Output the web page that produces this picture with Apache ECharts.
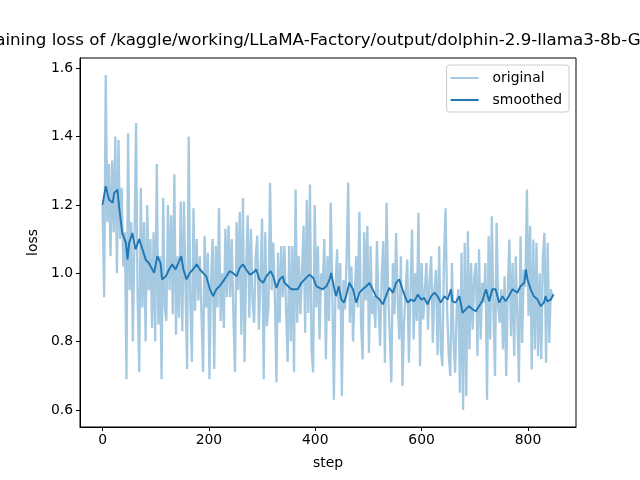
<!DOCTYPE html>
<html><head><meta charset="utf-8">
<script src="https://cdn.jsdelivr.net/npm/echarts@6/dist/echarts.min.js"></script>
<style>html,body{margin:0;padding:0;background:#fff}#c{width:640px;height:480px}</style>
</head><body><div id="c"></div>
<script>
const titleText = 'Training loss of /kaggle/working/LLaMA-Factory/output/dolphin-2.9-llama3-8b-GGUF';
const xTicks = [0, 200, 400, 600, 800];
const yTicks = [0.6, 0.8, 1.0, 1.2, 1.4, 1.6];
const seriesNames = ['original', 'smoothed'];

// original loss, one value every 3 steps starting at step 0
const originalStride = 3;
const originalValues = [
  1.20,0.93,1.58,1.15,1.32,1.05,1.33,1.12,1.40,1.00,1.39,1.10,1.25,1.02,1.12,0.69,1.41,0.95,1.15,0.80,
  1.10,1.44,0.92,0.71,1.25,0.90,1.15,0.80,1.20,0.95,1.10,0.84,1.12,0.80,1.32,0.85,1.05,0.69,1.22,0.90,
  0.86,1.20,0.95,1.17,0.88,1.29,0.82,1.05,0.87,1.21,0.83,
  1.21,0.95,0.72,1.40,0.92,0.74,1.19,0.89,1.10,0.92,1.05,0.88,0.71,1.11,0.90,1.06,0.69,0.98,1.10,0.72,
  1.08,0.90,1.19,0.86,1.00,0.84,1.13,0.93,1.14,0.93,1.10,0.88,0.71,1.15,0.95,1.18,0.82,1.22,0.74,1.02,
  1.17,0.87,1.13,0.92,0.855,1.05,1.11,0.835,1.00,1.16,0.69,1.12,0.845,0.90,
  1.265,0.95,1.09,0.93,0.68,1.06,0.855,1.08,0.93,1.08,0.90,0.74,1.08,0.80,1.08,0.71,1.245,0.855,1.05,0.88,
  1.00,1.14,0.826,1.215,0.884,1.26,0.777,0.71,1.20,0.90,1.08,0.806,1.00,0.953,1.10,0.748,1.05,0.86,1.206,0.953,
  0.63,0.95,1.07,0.894,1.03,0.64,0.98,0.894,1.05,1.265,0.855,1.02,0.80,
  0.797,1.05,0.90,1.18,0.855,0.748,1.12,0.92,1.138,0.767,1.08,0.88,0.933,0.84,1.094,0.90,0.787,1.00,1.094,0.738,
  1.206,0.953,0.82,0.68,1.03,0.88,1.118,0.92,0.806,1.05,0.67,0.855,0.95,1.04,0.738,0.95,1.128,0.806,1.00,0.86,
  1.177,0.728,1.03,0.865,0.95,1.03,0.835,0.98,1.05,0.797,0.95,1.01,0.76,
  1.079,0.777,0.728,1.04,1.19,0.894,0.757,0.699,1.03,0.806,0.709,0.90,0.953,0.65,1.06,0.60,1.089,0.64,1.123,0.777,
  1.03,0.835,0.99,1.03,0.757,1.07,0.806,0.972,0.914,1.03,0.63,1.108,0.806,1.167,0.90,0.699,1.148,0.90,0.855,0.953,
  0.777,0.991,0.699,0.95,1.099,0.816,1.03,0.757,1.05,0.875,0.68,1.108,0.796,
  1.01,0.96,1.245,0.875,1.138,0.718,1.099,0.777,1.089,0.757,1.00,0.748,1.05,1.118,0.738,1.089,0.796,0.953,0.93
];

const smoothedSteps = [
  0,6,12,19,22,28,31,37,44,47,50,56,62,69,75,81,87,97,103,109,112,119,125,131,137,144,148,152,158,164,
  170,177,183,189,195,202,208,214,220,227,233,239,245,252,258,264,270,277,283,289,295,302,308,316,321,327,333,339,342,349,
  355,361,367,374,380,389,396,402,408,414,421,427,430,436,439,444,449,454,458,464,471,477,483,489,496,502,508,514,521,527,
  533,539,546,552,558,561,564,571,574,580,586,593,599,605,611,618,624,630,636,643,649,655,658,664,671,677,683,689,696,702,
  708,714,721,727,733,739,746,752,758,764,771,780,786,793,796,799,805,811,818,824,830,833,836,843,848
];
const smoothedValues = [
  1.20,1.255,1.216,1.206,1.235,1.245,1.196,1.118,1.089,1.04,1.089,1.118,1.07,1.10,1.07,1.04,1.03,1.001,1.05,1.03,
  0.982,0.991,1.011,1.026,1.011,1.035,1.05,1.011,0.982,1.001,
  1.011,1.026,1.011,1.001,0.991,0.953,0.933,0.953,0.962,0.977,0.991,1.006,1.001,0.991,1.016,1.026,1.011,0.996,1.001,1.011,
  0.982,0.972,0.991,1.006,0.991,0.957,0.982,0.991,0.972,0.962,
  0.953,0.953,0.953,0.972,0.982,0.996,0.987,0.962,0.957,0.953,0.962,0.982,1.001,0.953,0.933,0.962,0.923,0.914,0.933,0.972,
  0.953,0.914,0.943,0.953,0.962,0.972,0.953,0.933,0.923,0.909,
  0.933,0.957,0.943,0.972,0.982,0.987,0.953,0.923,0.914,0.923,0.918,0.938,0.923,0.928,0.909,0.933,0.943,0.933,0.914,0.933,
  0.923,0.953,0.918,0.914,0.933,0.884,0.894,0.904,0.894,0.889,
  0.904,0.918,0.953,0.918,0.953,0.953,0.914,0.933,0.918,0.933,0.953,0.943,0.962,0.972,1.011,0.982,0.953,0.933,0.923,0.904,
  0.914,0.933,0.918,0.923,0.938
];

const originalData = originalValues.map((v, i) => [i * originalStride, v]);
const smoothedData = smoothedValues.map((v, i) => [smoothedSteps[i], v]);

const FONT = 'DejaVu Sans';
const chart = echarts.init(document.getElementById('c'), null, {renderer: 'canvas'});
chart.setOption({
  animation: false,
  backgroundColor: '#ffffff',
  title: {
    text: titleText, left: 328, top: 32, textAlign: 'center', padding: 0,
    textStyle: {fontFamily: FONT, fontSize: 16.7, fontWeight: 'normal', color: '#000'}
  },
  grid: {left: 80, right: 64, top: 58, bottom: 53, show: true, borderColor: '#000', borderWidth: 1, backgroundColor: 'transparent'},
  legend: {
    data: seriesNames, orient: 'vertical', right: 71, top: 65,
    icon: 'rect', itemWidth: 28, itemHeight: 2, itemGap: 8,
    backgroundColor: '#fff', borderColor: '#cccccc', borderWidth: 1, borderRadius: 3,
    padding: [6, 7, 5, 4],
    textStyle: {fontFamily: FONT, fontSize: 13.9, color: '#000', padding: [0, 0, 0, 9]}
  },
  xAxis: {
    type: 'value', min: -42.4, max: 890.3,
    name: 'step', nameLocation: 'middle', nameGap: 29,
    nameTextStyle: {fontFamily: FONT, fontSize: 13.9, color: '#000'},
    axisLine: {show: true, onZero: false, lineStyle: {color: '#000', width: 1}},
    axisTick: {show: true, customValues: xTicks, length: 4, lineStyle: {color: '#000', width: 1}},
    axisLabel: {customValues: xTicks, color: '#000', fontFamily: FONT, fontSize: 13.9, margin: 6},
    splitLine: {show: false}
  },
  yAxis: {
    type: 'value', min: 0.55, max: 1.63,
    name: 'loss', nameLocation: 'middle', nameGap: 38,
    nameTextStyle: {fontFamily: FONT, fontSize: 13.9, color: '#000'},
    axisLine: {show: true, onZero: false, lineStyle: {color: '#000', width: 1}},
    axisTick: {show: true, customValues: yTicks, length: 4, lineStyle: {color: '#000', width: 1}},
    axisLabel: {customValues: yTicks, color: '#000', fontFamily: FONT, fontSize: 13.9, margin: 7,
      formatter: v => Number(v).toFixed(1)},
    splitLine: {show: false}
  },
  series: [
    {name: seriesNames[0], type: 'line', data: originalData, showSymbol: false, symbol: 'none', silent: true,
     lineStyle: {color: '#a5c9e1', width: 2.3}, itemStyle: {color: '#a5c9e1'}, z: 1},
    {name: seriesNames[1], type: 'line', data: smoothedData, showSymbol: false, symbol: 'none', silent: true,
     lineStyle: {color: '#1f77b4', width: 1.9}, itemStyle: {color: '#1f77b4'}, z: 2}
  ]
});
</script>
</body></html>
